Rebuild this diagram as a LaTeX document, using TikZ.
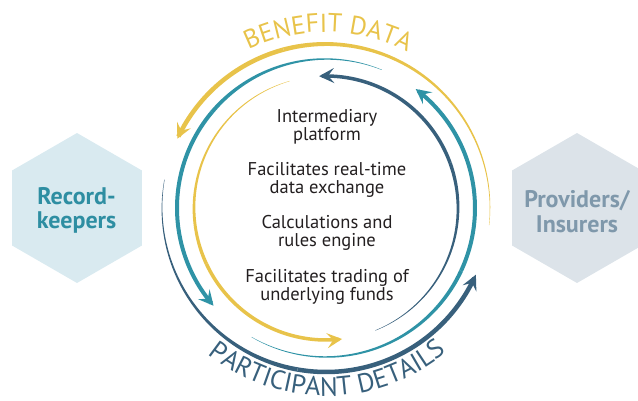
\documentclass[tikz,border=0pt]{standalone}
\usepackage{fontspec}
\setmainfont{PT Sans}
\usetikzlibrary{arrows.meta,shapes.geometric,decorations.text}
\definecolor{cyel}{HTML}{E8C34A}
\definecolor{cteal}{HTML}{2F93A6}
\definecolor{cdark}{HTML}{38607C}
\definecolor{hexL}{HTML}{D9EAF0}
\definecolor{hexR}{HTML}{DCE3E9}
\definecolor{txtL}{HTML}{2E8EA2}
\definecolor{txtR}{HTML}{7F98AB}
\definecolor{ink}{HTML}{231F20}
% tapered arc: color, th1, th2, r, w1, w2
\newcommand{\taperarc}[6]{%
  \fill[#1] plot[domain=#2:#3,samples=90]
    ({326+((#4)+0.5*((#5)+((#6)-(#5))*(\x-(#2))/((#3)-(#2))))*cos(\x)},
     {192+((#4)+0.5*((#5)+((#6)-(#5))*(\x-(#2))/((#3)-(#2))))*sin(\x)})
    -- plot[domain=#3:#2,samples=90]
    ({326+((#4)-0.5*((#5)+((#6)-(#5))*(\x-(#2))/((#3)-(#2))))*cos(\x)},
     {192+((#4)-0.5*((#5)+((#6)-(#5))*(\x-(#2))/((#3)-(#2))))*sin(\x)})
    -- cycle;}
% constant arc with arrow: color, th1, th2, r, w
\newcommand{\arrowarc}[5]{%
  \draw[#1,line width=#5,arrowtip] plot[domain=#2:#3,samples=60]
    ({326+(#4)*cos(\x)},{192+(#4)*sin(\x)});}
\tikzset{
  arrowtip/.style={-{Stealth[length=15pt,width=15pt,inset=6pt]}},
  hexshape/.style={regular polygon,regular polygon sides=6,shape border rotate=30,
    minimum size=150pt,inner sep=0pt,draw=none},
  hextext/.style={font=\fontsize{24}{24}\selectfont\bfseries,anchor=base,inner sep=0pt},
  bodytext/.style={font=\fontsize{18.5}{19}\selectfont,text=ink,anchor=base,inner sep=0pt},
}
\begin{document}
\begin{tikzpicture}[x=1pt,y=1pt]
\useasboundingbox (0,0) rectangle (638,400);
% hexagons
\node[hexshape,fill=hexL] (hexleft) at (77,192) {};
\node[hexshape,fill=hexR] (hexright) at (577,192) {};
\node[hextext,text=txtL] (rk1) at (76.5,196) {Record-};
\node[hextext,text=txtL] (rk2) at (76.5,172) {keepers};
\node[hextext,text=txtR] (pi1) at (577,193) {Providers/};
\node[hextext,text=txtR] (pi2) at (577,168) {Insurers};
% arcs
\taperarc{cyel}{-6}{105}{164}{0.3}{4.5}
\arrowarc{cyel}{105}{155}{164}{4.5}
\taperarc{cyel}{106}{205}{132}{0.3}{3.5}
\arrowarc{cyel}{205}{277}{132}{3.5}
\taperarc{cteal}{68}{140}{149}{0.3}{4}
\arrowarc{cteal}{140}{221}{149}{4}
\taperarc{cteal}{-120}{-25}{149}{0.3}{4}
\arrowarc{cteal}{-25}{53}{149}{4}
\taperarc{cdark}{-68}{20}{132}{0.3}{3.5}
\arrowarc{cdark}{20}{93}{132}{3.5}
\taperarc{cdark}{170}{260}{164}{0.3}{4.5}
\arrowarc{cdark}{260}{336}{164}{4.5}
% curved labels
\path[decorate,decoration={text along path,text align=center,
  text={|\fontsize{26}{26}\selectfont\color{cyel}|BENEFIT DATA}}]
  (326,192) ++(130:176) arc[start angle=130,end angle=48.6,radius=176];
\path[decorate,decoration={text along path,text align=center,
  text={|\fontsize{26.5}{26.5}\selectfont\color{cdark}|PARTICIPANT DETAILS}}]
  (326,192) ++(205:188) arc[start angle=205,end angle=336,radius=188];
% centre text
\node[bodytext] (t1a) at (327,278) {Intermediary};
\node[bodytext] (t1b) at (327,259) {platform};
\node[bodytext] (t2a) at (327,225) {Facilitates real-time};
\node[bodytext] (t2b) at (327,207) {data exchange};
\node[bodytext] (t3a) at (327,172) {Calculations and};
\node[bodytext] (t3b) at (327,154) {rules engine};
\node[bodytext] (t4a) at (327,118) {Facilitates trading of};
\node[bodytext] (t4b) at (327,100) {underlying funds};
\end{tikzpicture}
\end{document}
